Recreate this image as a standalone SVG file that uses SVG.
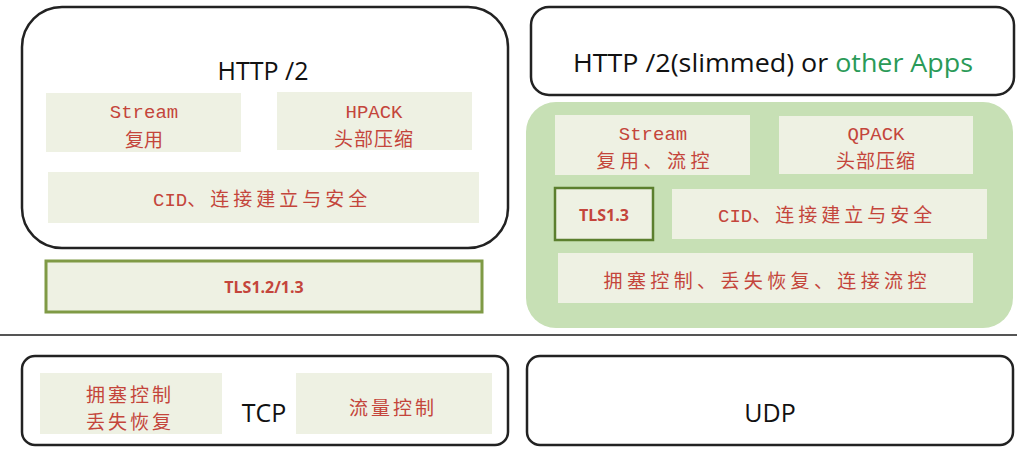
<svg xmlns="http://www.w3.org/2000/svg" width="1017" height="451" viewBox="0 0 1017 451">
<style>
.frame{fill:#fff;stroke:#222;stroke-width:2.5}
.cell{fill:#eef1e3}
.red{fill:#c4453b;font-family:"Liberation Mono","Noto Sans CJK SC",monospace;font-size:19px;text-anchor:middle}
.cjk{fill:#c4453b;font-family:"Noto Sans CJK SC",sans-serif;font-size:19px;text-anchor:middle}
.title{fill:#111;font-family:"Open Sans","DejaVu Sans",sans-serif;font-size:25px;text-anchor:middle}
.tls{fill:#c4453b;font-family:"Open Sans","Liberation Sans",sans-serif;font-size:16px;font-weight:bold;text-anchor:middle}
</style>
<rect width="1017" height="451" fill="#fff"/>
<g id="http2">
<rect class="frame" x="22" y="7" width="486" height="241" rx="40"/>
<text class="title" x="263" y="80">HTTP /2</text>
</g>
<g id="h2-stream">
<rect class="cell" x="46" y="93" width="195" height="59"/>
<text class="red" x="144" y="118">Stream</text>
<text class="cjk" x="144" y="147">复用</text>
</g>
<g id="h2-hpack">
<rect class="cell" x="277" y="92" width="195" height="58"/>
<text class="red" x="374" y="118">HPACK</text>
<text class="cjk" x="374" y="146" letter-spacing="1">头部压缩</text>
</g>
<g id="h2-cid">
<rect class="cell" x="48" y="172" width="431" height="51"/>
<text class="red" x="153" y="206" style="text-anchor:start">CID<tspan font-family="Noto Sans CJK SC,sans-serif" letter-spacing="4">、连接建立与安全</tspan></text>
</g>
<g id="tls12">
<rect x="46" y="261" width="436" height="51" fill="#eef1e3" stroke="#7f9a45" stroke-width="3"/>
<text class="tls" x="264" y="293">TLS1.2/1.3</text>
</g>
<g id="app">
<rect class="frame" x="531" y="7" width="483" height="88" rx="18"/>
<text class="title" x="773" y="72" textLength="400" lengthAdjust="spacingAndGlyphs">HTTP /2(slimmed) or <tspan fill="#2a9a58">other Apps</tspan></text>
</g>
<g id="quic">
<rect x="526" y="102" width="487" height="226" rx="30" fill="#c7e0b5"/>
</g>
<g id="q-stream">
<rect class="cell" x="555" y="115" width="195" height="60"/>
<text class="red" x="653" y="140">Stream</text>
<text class="cjk" x="653" y="168" textLength="113" lengthAdjust="spacing">复用、流控</text>
</g>
<g id="q-qpack">
<rect class="cell" x="779" y="116" width="194" height="58"/>
<text class="red" x="876" y="140">QPACK</text>
<text class="cjk" x="876" y="168" letter-spacing="1">头部压缩</text>
</g>
<g id="tls13">
<rect x="555" y="188" width="98" height="52" fill="#eef1e3" stroke="#5b7f2e" stroke-width="2.5"/>
<text class="tls" x="604" y="221">TLS1.3</text>
</g>
<g id="q-cid">
<rect class="cell" x="672" y="189" width="315" height="50"/>
<text class="red" x="718" y="222" style="text-anchor:start">CID<tspan font-family="Noto Sans CJK SC,sans-serif" letter-spacing="4">、连接建立与安全</tspan></text>
</g>
<g id="q-cc">
<rect class="cell" x="558" y="253" width="415" height="50"/>
<text class="cjk" x="765" y="288" textLength="323" lengthAdjust="spacing">拥塞控制、丢失恢复、连接流控</text>
</g>
<g id="connectors">
<line x1="0" y1="335" x2="1017" y2="335" stroke="#555" stroke-width="2"/>
</g>
<g id="tcp">
<rect class="frame" x="22" y="356" width="486" height="89" rx="13"/>
<text class="title" x="264" y="422">TCP</text>
</g>
<g id="tcp-cc">
<rect class="cell" x="40" y="373" width="182" height="61"/>
<text class="cjk" x="130" y="402" letter-spacing="3">拥塞控制</text>
<text class="cjk" x="130" y="429" letter-spacing="3">丢失恢复</text>
</g>
<g id="tcp-flow">
<rect class="cell" x="296" y="373" width="196" height="61"/>
<text class="cjk" x="393" y="415" letter-spacing="3">流量控制</text>
</g>
<g id="udp">
<rect class="frame" x="527" y="356" width="486" height="89" rx="13"/>
<text class="title" x="770" y="422">UDP</text>
</g>
</svg>
